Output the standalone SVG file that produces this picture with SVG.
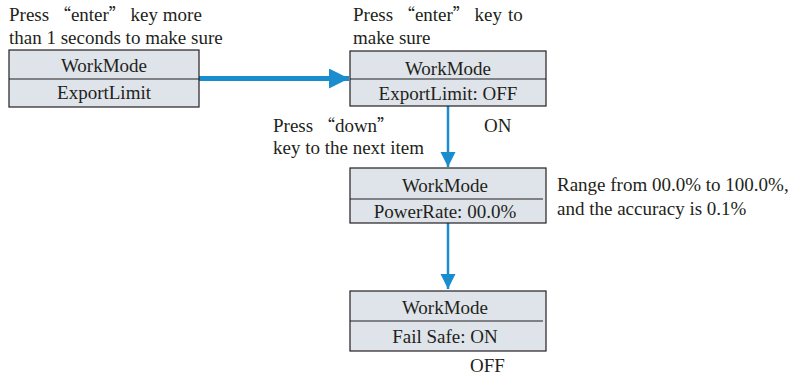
<svg xmlns="http://www.w3.org/2000/svg" width="792" height="377" viewBox="0 0 792 377">
<defs>
<style>
text{font-family:"Liberation Serif","Times New Roman",serif;font-size:19px;fill:#231f20}
.q{font-family:"Noto Sans CJK SC","Liberation Serif",serif;font-size:17px}
.c{text-anchor:middle}
.box{fill:#dfe4ea;stroke:#231f20;stroke-width:1.2}
.div{stroke:#231f20;stroke-width:1.2}
.conn{stroke:#1a8dcf;fill:none}
</style>
<marker id="ah" viewBox="0 0 10 10" refX="10" refY="5" markerWidth="4" markerHeight="4" markerUnits="strokeWidth" orient="auto">
<path d="M0,0 L10,5 L0,10 Z" fill="#1a8dcf"/>
</marker>
<marker id="ah2" viewBox="0 0 10 10" refX="10" refY="5" markerWidth="6" markerHeight="7" markerUnits="strokeWidth" orient="auto">
<path d="M0,0 L10,5 L0,10 Z" fill="#1a8dcf"/>
</marker>
</defs>
<rect width="792" height="377" fill="#fff"/>
<g id="connectors">
<line class="conn" x1="199" y1="78.5" x2="349" y2="78.5" stroke-width="5" marker-end="url(#ah)"/>
<line class="conn" x1="448" y1="106" x2="448" y2="167" stroke-width="2.5" marker-end="url(#ah2)"/>
<line class="conn" x1="448" y1="223" x2="448" y2="289" stroke-width="2.5" marker-end="url(#ah2)"/>
</g>
<g id="label-top-left">
<text x="9" y="21">Press <tspan class="q">“</tspan>enter<tspan class="q">”</tspan> key more</text>
<text x="9" y="44">than 1 seconds to make sure</text>
</g>
<g id="label-top-right">
<text x="353" y="21">Press <tspan class="q">“</tspan>enter<tspan class="q">”</tspan> key <tspan x="508">to</tspan></text>
<text x="353" y="44">make sure</text>
</g>
<g id="node1">
<rect class="box" x="9" y="50" width="190" height="57"/>
<line class="div" x1="9" y1="79" x2="199" y2="79"/>
<text class="c" x="104" y="72">WorkMode</text>
<text class="c" x="104" y="99">ExportLimit</text>
</g>
<g id="node2">
<rect class="box" x="350" y="51" width="196" height="55"/>
<line class="div" x1="350" y1="79" x2="546" y2="79"/>
<text class="c" x="448" y="75">WorkMode</text>
<text class="c" x="448" y="100">ExportLimit: OFF</text>
</g>
<g id="label-down">
<text x="273" y="132">Press <tspan class="q">“</tspan>down<tspan class="q">”</tspan></text>
<text x="273" y="154">key to the next item</text>
<text x="484" y="132">ON</text>
</g>
<g id="node3">
<rect class="box" x="350" y="168" width="196" height="55"/>
<line class="div" x1="350" y1="199" x2="543" y2="199"/>
<text class="c" x="445" y="192">WorkMode</text>
<text class="c" x="445" y="218">PowerRate: 00.0%</text>
</g>
<g id="label-range">
<text x="557" y="191">Range from 00.0% to 100.0%,</text>
<text x="557" y="215">and the accuracy is 0.1%</text>
</g>
<g id="node4">
<rect class="box" x="350" y="291" width="196" height="60"/>
<line class="div" x1="350" y1="321" x2="543" y2="321"/>
<text class="c" x="445" y="314">WorkMode</text>
<text class="c" x="445" y="343">Fail Safe: ON</text>
</g>
<g id="label-off">
<text x="470" y="372">OFF</text>
</g>
</svg>
